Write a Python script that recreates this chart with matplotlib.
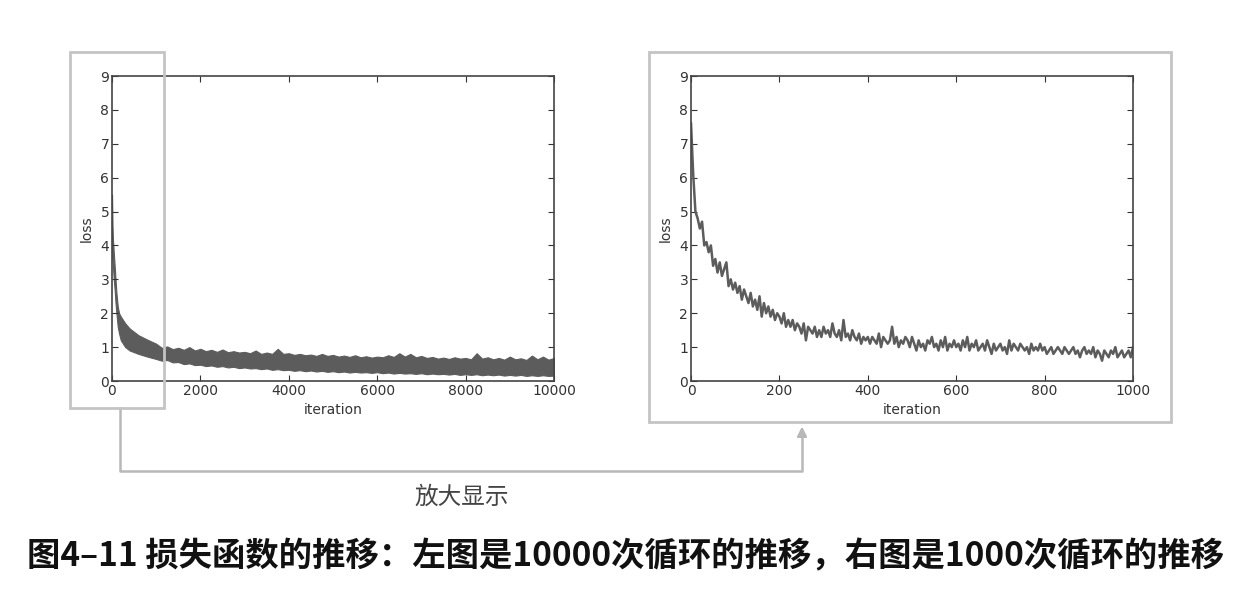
import matplotlib.pyplot as plt
import numpy as np
from matplotlib.patches import Rectangle
from matplotlib.lines import Line2D

plt.rcParams['font.family'] = ['DejaVu Sans', 'Noto Sans CJK SC']

# left chart: 10000 iterations, loss band (upper / lower edge)
iter_long = [0, 10, 20, 40, 60, 80, 100, 130, 160, 200, 250, 300, 400, 500, 600, 800] + \
            list(range(1000, 10001, 125))
loss_long_hi = [5.5, 4.6, 4.2, 3.8, 3.4, 3.0, 2.6, 2.2, 2.0, 1.9, 1.8, 1.7, 1.55, 1.45, 1.35, 1.22,
                1.1, 0.98, 1.02, 0.94, 0.98, 0.92, 1.0, 0.9, 0.95, 0.88, 0.92, 0.86, 0.93,
                0.85, 0.88, 0.84, 0.86, 0.82, 0.9, 0.8, 0.84, 0.8, 0.95, 0.8, 0.82, 0.77,
                0.8, 0.76, 0.78, 0.74, 0.8, 0.74, 0.77, 0.72, 0.75, 0.71, 0.76, 0.7, 0.73,
                0.69, 0.72, 0.7, 0.76, 0.71, 0.82, 0.72, 0.8, 0.7, 0.74, 0.68, 0.71, 0.66,
                0.69, 0.65, 0.7, 0.66, 0.68, 0.64, 0.82, 0.66, 0.7, 0.64, 0.68, 0.63, 0.72,
                0.64, 0.67, 0.62, 0.75, 0.64, 0.72, 0.63, 0.68]
loss_long_lo = [4.0, 3.6, 3.4, 3.0, 2.7, 2.3, 2.0, 1.6, 1.4, 1.2, 1.1, 1.0, 0.9, 0.85, 0.8, 0.72,
                0.65, 0.6, 0.62, 0.55, 0.56, 0.5, 0.52, 0.47, 0.48, 0.44, 0.46, 0.42, 0.44,
                0.4, 0.42, 0.38, 0.4, 0.37, 0.38, 0.35, 0.37, 0.33, 0.35, 0.32, 0.33, 0.3,
                0.32, 0.29, 0.31, 0.28, 0.3, 0.27, 0.29, 0.26, 0.28, 0.25, 0.27, 0.25, 0.26,
                0.24, 0.26, 0.23, 0.25, 0.22, 0.24, 0.22, 0.23, 0.21, 0.23, 0.2, 0.22, 0.2,
                0.21, 0.19, 0.21, 0.18, 0.2, 0.18, 0.2, 0.17, 0.19, 0.17, 0.19, 0.16, 0.18,
                0.16, 0.18, 0.15, 0.17, 0.15, 0.17, 0.15, 0.16]

# right chart: 1000 iterations, one value every 5 iterations
loss_short = [
    7.6, 6.1, 5.0, 4.8, 4.5, 4.7, 4.0, 4.1, 3.8, 4.0, 3.4, 3.6, 3.2, 3.5, 3.1, 3.3, 3.5, 2.8, 3.0, 2.7,
    2.9, 2.6, 2.8, 2.4, 2.7, 2.5, 2.3, 2.6, 2.2, 2.4, 2.1, 2.5, 1.9, 2.3, 2.0, 2.2, 1.9, 2.1, 1.8, 2.0,
    1.9, 1.7, 2.0, 1.6, 1.8, 1.6, 1.8, 1.5, 1.7, 1.6, 1.4, 1.7, 1.2, 1.6, 1.5, 1.4, 1.6, 1.3, 1.5, 1.3,
    1.6, 1.4, 1.5, 1.3, 1.7, 1.4, 1.3, 1.5, 1.2, 1.8, 1.3, 1.4, 1.2, 1.5, 1.3, 1.2, 1.4, 1.1, 1.3, 1.2,
    1.3, 1.1, 1.3, 1.2, 1.1, 1.4, 1.0, 1.3, 1.2, 1.1, 1.2, 1.6, 1.1, 1.3, 1.0, 1.2, 1.1, 1.3, 1.2, 1.0,
    1.3, 1.1, 0.9, 1.2, 1.0, 1.1, 0.9, 1.2, 1.1, 1.3, 1.0, 1.1, 0.9, 1.2, 1.0, 1.3, 0.9, 1.1, 1.0, 1.2,
    1.0, 1.1, 0.9, 1.2, 1.0, 1.3, 0.9, 1.1, 1.0, 1.2, 0.9, 1.0, 1.1, 0.9, 1.2, 1.0, 0.8, 1.1, 0.9, 1.0,
    1.1, 0.9, 1.0, 0.8, 1.2, 0.9, 1.1, 1.0, 0.9, 1.1, 1.0, 0.9, 1.0, 0.8, 1.1, 0.9, 1.0, 0.9, 1.1, 0.9,
    1.0, 0.8, 0.9, 1.0, 0.8, 0.9, 1.0, 0.9, 0.8, 1.0, 0.9, 0.8, 0.9, 1.0, 0.8, 0.9, 0.7, 0.9, 1.0, 0.8,
    0.9, 0.8, 1.0, 0.7, 0.9, 0.8, 0.6, 0.9, 0.8, 0.7, 0.9, 0.8, 1.0, 0.7, 0.8, 0.9, 0.7, 0.8, 0.9, 0.7,
    1.0]
iter_short = np.arange(len(loss_short)) * 5

line_color = '#5c5c5c'
frame_color = '#c4c4c4'

fig = plt.figure(figsize=(12.5, 6.1), dpi=100)
ax1 = fig.add_axes([0.0896, 0.3754, 0.3536, 0.5])
ax2 = fig.add_axes([0.5528, 0.3754, 0.3536, 0.5])

ax1.fill_between(iter_long, loss_long_lo, loss_long_hi, color=line_color, lw=0.8)
ax1.set_xlim(0, 10000)
ax1.set_xticks(range(0, 10001, 2000))

ax2.plot(iter_short, loss_short, color=line_color, lw=1.8)
ax2.set_xlim(0, 1000)
ax2.set_xticks(range(0, 1001, 200))

for ax in (ax1, ax2):
    ax.set_ylim(0, 9)
    ax.set_yticks(range(0, 10))
    ax.set_xlabel('iteration', fontsize=10, color='#333333', labelpad=4)
    ax.set_ylabel('loss', fontsize=10, color='#333333', labelpad=5)
    ax.tick_params(direction='in', top=True, right=True, labelsize=10,
                   colors='#333333', length=4, pad=2)
    for s in ax.spines.values():
        s.set_color('#444444')
        s.set_linewidth(1.2)

W, H = 1250, 610
def fx(px):
    return px / W
def fy(py):
    return 1 - py / H

# zoom frames
fig.add_artist(Rectangle((fx(70), fy(408)), fx(164) - fx(70), fy(52) - fy(408),
                         transform=fig.transFigure, fill=False, ec=frame_color, lw=2, zorder=10))
fig.add_artist(Rectangle((fx(649), fy(422)), fx(1171) - fx(649), fy(52) - fy(422),
                         transform=fig.transFigure, fill=False, ec=frame_color, lw=2, zorder=10))

# connector with arrow
fig.add_artist(Line2D([fx(120), fx(120), fx(802), fx(802)], [fy(408), fy(471), fy(471), fy(435)],
                      transform=fig.transFigure, color='#b8b8b8', lw=1.8))
fig.add_artist(plt.annotate('', xy=(fx(802), fy(424)), xytext=(fx(802), fy(440)),
                            xycoords='figure fraction', textcoords='figure fraction',
                            arrowprops=dict(arrowstyle='-|>', color='#b8b8b8', lw=1.5,
                                            mutation_scale=14)))

fig.text(fx(462), fy(497), '放大显示', ha='center', va='center', fontsize=17,
         family=['Noto Sans CJK SC'], weight='light', color='#444444')
fig.text(fx(626), fy(557), '图4–11 损失函数的推移：左图是10000次循环的推移，右图是1000次循环的推移',
         ha='center', va='center', fontsize=24, family=['Noto Sans CJK SC', 'DejaVu Sans'],
         weight='bold', color='#111111')

fig.savefig('out.png', dpi=100)
